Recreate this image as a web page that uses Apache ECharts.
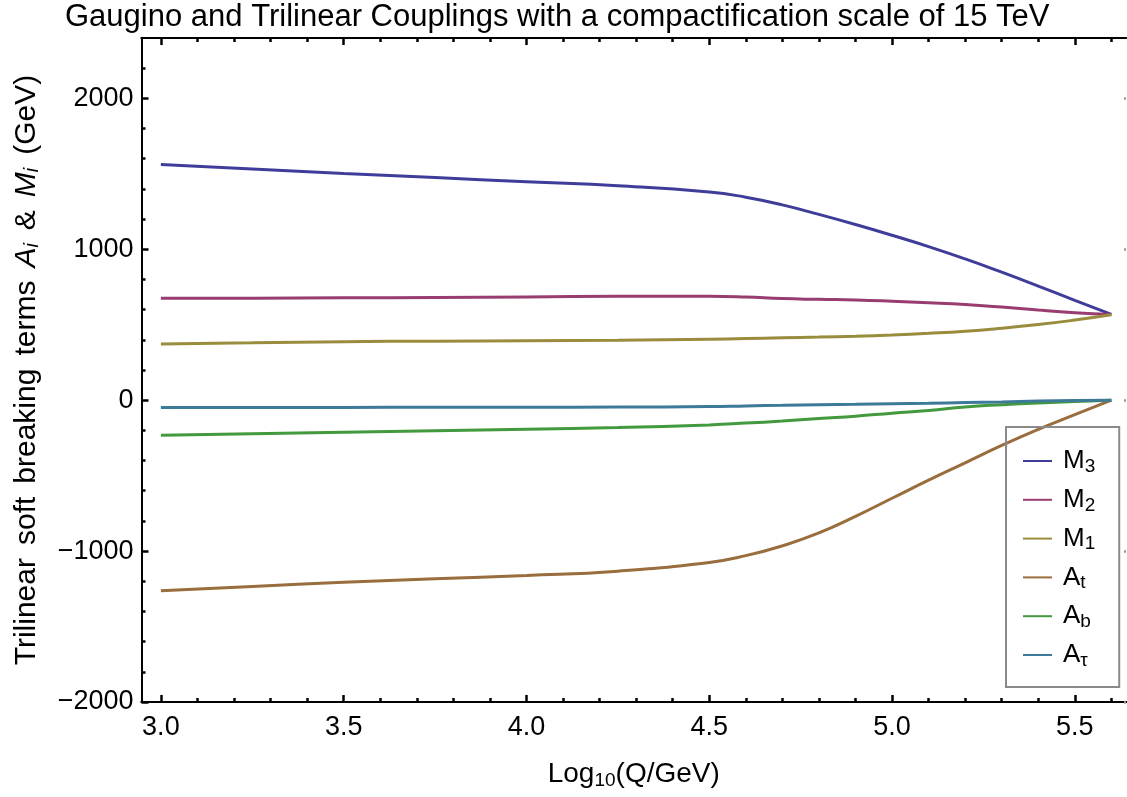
<!DOCTYPE html>
<html>
<head>
<meta charset="utf-8">
<script src="https://cdn.jsdelivr.net/npm/echarts@6/dist/echarts.min.js"></script>
<style>
  html, body { margin: 0; padding: 0; background: #fff; }
  #chart { width: 1127px; height: 797px; }
</style>
</head>
<body>
<div id="chart"></div>
<script>
// log10(Q/GeV) sample points, shared by every curve
var qLog = [3.0, 3.25, 3.5, 3.75, 4.0, 4.25, 4.5, 4.6, 4.7, 4.8, 4.9, 5.0, 5.1, 5.2, 5.3, 5.4, 5.5, 5.6];

var m3Vals   = [1562, 1532, 1502, 1475, 1447, 1421, 1380, 1345, 1294, 1231, 1164, 1093, 1018, 936, 848, 756, 662, 568];
var m2Vals   = [675, 676, 678, 681, 684, 688, 689, 684, 673, 668, 664, 656, 646, 634, 617, 597, 580, 568];
var m1Vals   = [373, 380, 388, 391, 394, 397, 404, 408, 413, 418, 424, 432, 443, 457, 477, 501, 531, 566];
var atVals   = [-1262, -1234, -1207, -1184, -1162, -1133, -1075, -1030, -965, -880, -770, -650, -530, -415, -300, -193, -96, 0];
var abVals   = [-233, -222, -212, -202, -192, -181, -164, -152, -138, -121, -106, -86, -68, -45, -30, -18, -9, 0];
var atauVals = [-48, -48, -48, -47, -47, -46, -42, -38, -34, -30, -27, -23, -20, -16, -12, -6, -2, 0];

var seriesNames = ['M3', 'M2', 'M1', 'At', 'Ab', 'A\u03c4'];
var seriesColors = ['#3F3D99', '#993D71', '#998C3D', '#996D3D', '#43993D', '#3D7999'];
var seriesVals = [m3Vals, m2Vals, m1Vals, atVals, abVals, atauVals];

var xMajor = [3.0, 3.5, 4.0, 4.5, 5.0, 5.5];
var xMinor = [3.0, 3.1, 3.2, 3.3, 3.4, 3.5, 3.6, 3.7, 3.8, 3.9, 4.0, 4.1, 4.2, 4.3, 4.4, 4.5, 4.6, 4.7, 4.8, 4.9, 5.0, 5.1, 5.2, 5.3, 5.4, 5.5, 5.6];
var yMajor = [-2000, -1000, 0, 1000, 2000];
var yMinor = [-2000, -1800, -1600, -1400, -1200, -1000, -800, -600, -400, -200, 0, 200, 400, 600, 800, 1000, 1200, 1400, 1600, 1800, 2000, 2200];

var legendLabels = {
  'M3': '{b|M}{s|3}',
  'M2': '{b|M}{s|2}',
  'M1': '{b|M}{s|1}',
  'At': '{b|A}{s|t}',
  'Ab': '{b|A}{s|b}',
  'A\u03c4': '{b|A}{s|\u03c4}'
};

var FONT = '"Liberation Sans", Arial, sans-serif';
var X_MIN = 2.947, X_MAX = 5.64;

function pairs(vals) {
  return vals.map(function (v, i) { return [qLog[i], v]; });
}

function xAxisDef(pos, ticks, len, withLabels) {
  return {
    type: 'value', position: pos, min: X_MIN, max: X_MAX,
    axisLine: { show: withLabels !== null, onZero: false, lineStyle: { color: '#000', width: 2 } },
    axisTick: { show: true, inside: true, length: len, customValues: ticks,
                lineStyle: { color: '#000', width: 2.5 } },
    axisLabel: withLabels ? {
      show: true, customValues: xMajor, margin: 12, color: '#000',
      fontFamily: FONT, fontSize: 27,
      formatter: function (v) { return v.toFixed(1); }
    } : { show: false },
    splitLine: { show: false }
  };
}

function yAxisDef(pos, ticks, len, withLabels, color) {
  return {
    type: 'value', position: pos, min: -2000, max: 2400,
    axisLine: { show: withLabels !== null && pos === 'left', onZero: false, lineStyle: { color: '#000', width: 2 } },
    axisTick: { show: true, inside: true, length: len, customValues: ticks,
                lineStyle: { color: color || '#000', width: 2.5 } },
    axisLabel: withLabels ? {
      show: true, customValues: yMajor, margin: 8, color: '#000',
      fontFamily: FONT, fontSize: 27,
      formatter: function (v) { return v < 0 ? '\u2212' + Math.abs(v) : String(v); }
    } : { show: false },
    splitLine: { show: false }
  };
}

var xAxes = [
  xAxisDef('bottom', xMajor, 7, true),
  xAxisDef('bottom', xMinor, 4, false),
  xAxisDef('top', xMajor, 7, false),
  xAxisDef('top', xMinor, 4, false)
];
xAxes[0].name = '{n|Log}{sub|10}{n|(Q/GeV)}';
xAxes[0].nameLocation = 'middle';
xAxes[0].nameGap = 56;
xAxes[0].nameTextStyle = {
  color: '#000', fontFamily: FONT,
  rich: {
    n: { fontSize: 28, lineHeight: 32, fontFamily: FONT, color: '#000' },
    sub: { fontSize: 19, lineHeight: 10, verticalAlign: 'bottom', fontFamily: FONT, color: '#000' }
  }
};

var yAxes = [
  yAxisDef('left', yMajor, 7, true),
  yAxisDef('left', yMinor, 4, false),
  yAxisDef('right', yMajor, 2, null, '#999')
];
yAxes[0].name = '{n|Trilinear}{sp| }{n|soft}{sp| }{n|breaking}{sp| }{n|terms}{sp| }' +
                '{it|A}{sub|i}{sp| }{n|&}{sp| }{it|M}{sub|i}{sp| }{n|(GeV)}';
yAxes[0].nameLocation = 'middle';
yAxes[0].nameGap = 99;
yAxes[0].nameTextStyle = {
  color: '#000', fontFamily: FONT,
  rich: {
    n: { fontSize: 30, lineHeight: 32, fontFamily: FONT, color: '#000' },
    sp: { fontSize: 30, lineHeight: 32, width: 13, fontFamily: FONT },
    it: { fontSize: 30, lineHeight: 32, fontStyle: 'italic', fontFamily: FONT, color: '#000' },
    sub: { fontSize: 20, lineHeight: 10, verticalAlign: 'bottom', fontStyle: 'italic', fontFamily: FONT, color: '#000' }
  }
};

var series = seriesNames.map(function (name, i) {
  return {
    name: name, type: 'line', xAxisIndex: 0, yAxisIndex: 0,
    data: pairs(seriesVals[i]),
    smooth: true, showSymbol: false, symbol: 'none',
    lineStyle: { color: seriesColors[i], width: 3 },
    itemStyle: { color: seriesColors[i] },
    z: 3
  };
});

var chart = echarts.init(document.getElementById('chart'), null, { renderer: 'canvas' });
chart.setOption({
  animation: false,
  backgroundColor: '#fff',
  title: {
    text: 'Gaugino and Trilinear Couplings with a compactification scale of 15 TeV',
    left: 65, top: 2, padding: 0,
    textStyle: { fontFamily: FONT, fontSize: 31, fontWeight: 'normal', color: '#000' }
  },
  grid: { left: 141.5, right: 1, top: 38, bottom: 95, containLabel: false },
  xAxis: xAxes,
  yAxis: yAxes,
  legend: {
    orient: 'vertical', left: 1006, top: 427,
    padding: [21, 24, 17, 17], itemGap: 10.8,
    itemWidth: 29, itemHeight: 2, icon: 'rect',
    borderColor: '#8a8a8a', borderWidth: 2, backgroundColor: 'transparent',
    data: seriesNames,
    formatter: function (name) { return legendLabels[name]; },
    textStyle: {
      color: '#000', fontFamily: FONT,
      rich: {
        b: { fontSize: 26, lineHeight: 30, fontFamily: FONT, color: '#000', padding: [0, 0, 0, 6] },
        s: { fontSize: 19, lineHeight: 6, verticalAlign: 'bottom', fontFamily: FONT, color: '#000' }
      }
    },
    itemStyle: { borderWidth: 0 },
    selectedMode: false
  },
  series: series
});
</script>
</body>
</html>
